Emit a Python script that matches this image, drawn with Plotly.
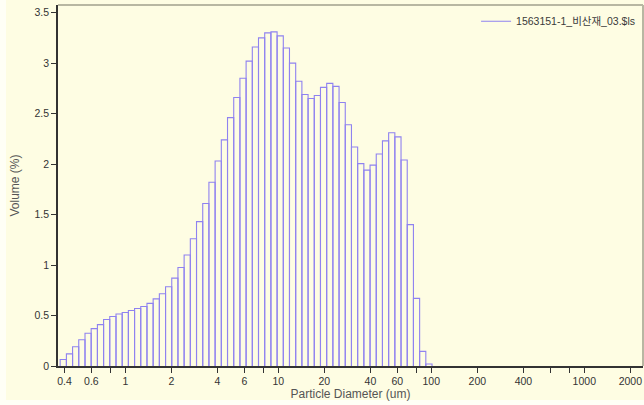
import plotly.graph_objects as go
import math

# Channel edges (um) of the particle-size bins
channel_edges = [0.375, 0.412, 0.452, 0.496, 0.545, 0.598, 0.657, 0.721, 0.791, 0.869,
                 0.954, 1.047, 1.149, 1.261, 1.385, 1.520, 1.669, 1.832, 2.011, 2.208,
                 2.423, 2.660, 2.920, 3.206, 3.519, 3.863, 4.241, 4.656, 5.111, 5.611,
                 6.159, 6.761, 7.422, 8.148, 8.944, 9.819, 10.78, 11.83, 12.99, 14.26,
                 15.65, 17.18, 18.86, 20.71, 22.73, 24.95, 27.39, 30.07, 33.01, 36.24,
                 39.78, 43.67, 47.94, 52.62, 57.77, 63.41, 69.61, 76.42, 83.89, 92.09,
                 101.1]

# Volume (%) per channel
volume_pct = [0.065, 0.12, 0.19, 0.26, 0.325, 0.37, 0.41, 0.46, 0.49, 0.515,
              0.53, 0.55, 0.57, 0.59, 0.62, 0.665, 0.715, 0.785, 0.87, 0.975,
              1.10, 1.26, 1.43, 1.61, 1.82, 2.03, 2.24, 2.46, 2.66, 2.85,
              3.02, 3.16, 3.25, 3.30, 3.31, 3.27, 3.15, 3.00, 2.82, 2.69,
              2.65, 2.68, 2.76, 2.80, 2.77, 2.61, 2.39, 2.17, 2.005, 1.94,
              1.99, 2.10, 2.23, 2.31, 2.27, 2.04, 1.40, 0.67, 0.145, 0.02]

x_tick_vals = [0.4, 0.6, 0.8, 1, 2, 4, 6, 8, 10, 20, 40, 60, 80, 100, 200, 400, 600, 800, 1000, 2000]
x_tick_text = ["0.4", "0.6", "", "1", "2", "4", "6", "", "10", "20", "40", "60", "", "100",
               "200", "400", "", "", "1000", "2000"]
y_tick_vals = [0, 0.5, 1, 1.5, 2, 2.5, 3, 3.5]
y_tick_text = ["0", "0.5", "1", "1.5", "2", "2.5", "3", "3.5"]

series_name = "1563151-1_비산재_03.$ls"

xs, ys = [], []
for lo, hi, v in zip(channel_edges[:-1], channel_edges[1:], volume_pct):
    xs += [lo, lo, hi, hi, None]
    ys += [0, v, v, 0, None]

FONT = "Liberation Sans, Arial, Noto Sans CJK KR, sans-serif"
BAR_COLOR = "#8f82f0"

fig = go.Figure()
fig.add_trace(go.Scatter(
    x=xs, y=ys, mode="lines", name=series_name,
    line=dict(color=BAR_COLOR, width=1.1),
    showlegend=True, hoverinfo="skip",
))

W, H = 644, 405
L, R, T, B = 58, 1, 5, 39
pw, ph = W - L - R, H - T - B

def px_x(p):
    return (p - L) / pw

def px_y(p):
    return (H - B - p) / ph

fig.update_layout(
    width=W, height=H,
    margin=dict(l=L, r=R, t=T, b=B, pad=0),
    paper_bgcolor="#fffff6",
    plot_bgcolor="#fffee2",
    font=dict(family=FONT, size=10.5, color="#333333"),
    showlegend=True,
    legend=dict(
        x=0.995, xanchor="right", y=0.995, yanchor="top",
        bgcolor="rgba(0,0,0,0)", borderwidth=0,
        font=dict(family=FONT, size=10.5, color="#3a3a3a"),
        itemwidth=30,
    ),
    xaxis=dict(
        type="log",
        range=[math.log10(0.363), math.log10(2420)],
        tickmode="array", tickvals=x_tick_vals, ticktext=x_tick_text,
        ticks="outside", ticklen=5, tickwidth=1, tickcolor="#333333",
        showline=True, linecolor="#333333", linewidth=1.5,
        showgrid=False, zeroline=False, layer="below traces",
        title=dict(text="Particle Diameter (um)", font=dict(size=12, color="#555555"), standoff=2),
        tickfont=dict(size=10.5, color="#333333"),
    ),
    yaxis=dict(
        range=[0, 3.576],
        tickmode="array", tickvals=y_tick_vals, ticktext=y_tick_text,
        ticks="outside", ticklen=5, tickwidth=1, tickcolor="#333333",
        showline=True, linecolor="#333333", linewidth=1.5,
        showgrid=False, zeroline=False, layer="below traces",
        title=dict(text="Volume (%)", font=dict(size=12, color="#555555"), standoff=12),
        tickfont=dict(size=10.5, color="#333333"),
    ),
    shapes=[
        dict(type="rect", xref="paper", yref="paper", layer="below",
             x0=px_x(6), x1=px_x(W), y0=px_y(400), y1=px_y(0),
             fillcolor="#fefde3", line=dict(width=0)),
        dict(type="line", xref="paper", yref="paper", layer="above",
             x0=0, x1=1, y0=1, y1=1, line=dict(color="#b8b7a2", width=2)),
        dict(type="line", xref="paper", yref="paper", layer="above",
             x0=1, x1=1, y0=0, y1=1, line=dict(color="#b8b7a2", width=2)),
    ],
)

fig.write_html(
    "out.html",
    config={"displayModeBar": False},
    post_script="document.body.style.margin='0';document.body.style.padding='0';",
)
